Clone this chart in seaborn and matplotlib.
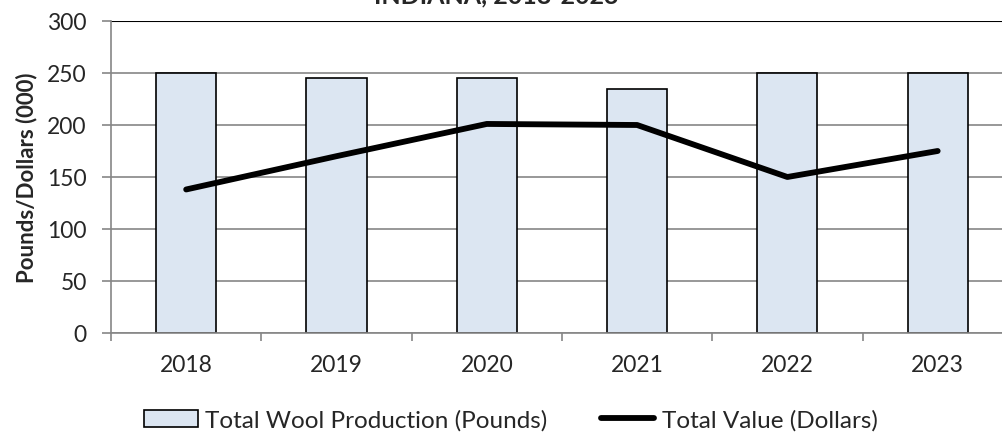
import pandas as pd
import matplotlib.pyplot as plt
import seaborn as sns
import numpy as np
from matplotlib.patches import Patch
from matplotlib.lines import Line2D

years = ["2018", "2019", "2020", "2021", "2022", "2023"]
wool_pounds = [250, 245, 245, 235, 250, 250]
value_dollars = [138, 170, 201, 200, 150, 175]

sns.set_theme(style="white")
plt.rcParams['font.family'] = ['Lato', 'DejaVu Sans']

df = pd.DataFrame({"year": years, "pounds": wool_pounds, "dollars": value_dollars})

fig = plt.figure(figsize=(10.02, 4.39), dpi=100)
ax = fig.add_axes([0.1108, 0.2392, 0.9, 0.7107])

sns.barplot(data=df, x="year", y="pounds", ax=ax, color="#dce6f2",
            edgecolor="black", linewidth=1.2, width=0.4, saturation=1, zorder=2)
sns.lineplot(x=np.arange(len(years)), y=df["dollars"], ax=ax, color="black",
             linewidth=4.2, solid_capstyle="round", zorder=3)

ax.set_xlim(-0.5, len(years) - 0.5)
ax.set_ylim(0, 300)
ax.set_yticks(range(0, 301, 50))
ax.yaxis.grid(True, color="#868686", linewidth=1.2, zorder=0)
ax.set_axisbelow(True)

for s in ["top", "right"]:
    ax.spines[s].set_visible(False)
ax.spines["left"].set_color("#868686")
ax.spines["bottom"].set_color("#868686")
ax.spines["left"].set_linewidth(1.2)
ax.spines["bottom"].set_linewidth(1.2)
ax.axhline(300, color="black", linewidth=1.5, zorder=1)

ax.tick_params(axis="y", left=True, length=6.5, color="#868686", width=1.2, labelsize=16.5, pad=11)
ax.tick_params(axis="x", which="major", bottom=False, length=0, labelsize=16.5, pad=15)
ax.set_xticks(np.arange(-0.5, len(years) - 0.4, 1), minor=True)
ax.tick_params(axis="x", which="minor", bottom=True, length=6, color="#868686", width=1.2)

ax.set_xlabel("")
ax.set_ylabel("Pounds/Dollars (000)", fontsize=16, fontweight="bold", labelpad=7)

# title sits mostly above the canvas, as in the source image
fig.text(0.495, 0.993, "WOOL PRODUCTION AND VALUE\nINDIANA, 2018-2023", ha="center", va="baseline",
         fontsize=18, fontweight="bold", linespacing=1.3)

handles = [Patch(facecolor="#dce6f2", edgecolor="black", linewidth=1.2),
           Line2D([0], [0], color="black", linewidth=4.2)]
labels = ["Total Wool Production (Pounds)", "Total Value (Dollars)"]
fig.legend(handles, labels, loc="center", bbox_to_anchor=(0.51, 0.041), ncol=2,
           frameon=False, fontsize=17.5, handlelength=2.2, handletextpad=0.3,
           columnspacing=2.2, borderpad=0)

plt.savefig("out.png", dpi=100)
